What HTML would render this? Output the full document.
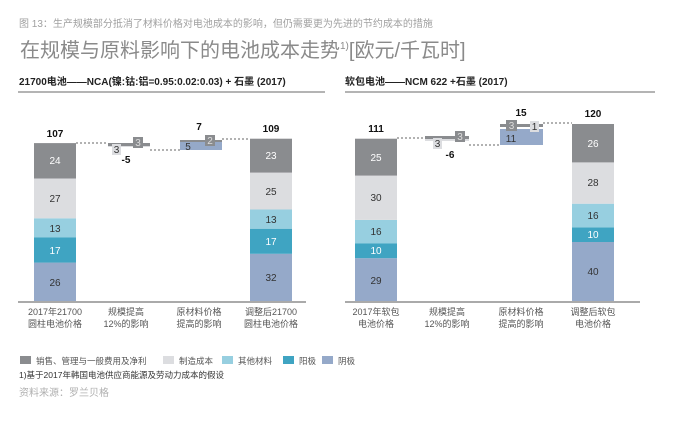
<!DOCTYPE html><html><head><meta charset="utf-8"><style>
body{margin:0;background:#fff;width:676px;height:433px;overflow:hidden;font-family:"Liberation Sans","Noto Sans CJK SC",sans-serif}
svg text{font-family:"Liberation Sans","Noto Sans CJK SC",sans-serif}
</style></head><body>
<svg width="676" height="433" viewBox="0 0 676 433" xmlns="http://www.w3.org/2000/svg">
<text x="19" y="27" font-size="10" fill="#a0a0a0" font-family="Noto Serif CJK SC, serif">图 13：生产规模部分抵消了材料价格对电池成本的影响，但仍需要更为先进的节约成本的措施</text>
<text x="20" y="57" font-size="20" fill="#8a8a8a">在规模与原料影响下的电池成本走势<tspan font-size="10" dy="-8">1)</tspan><tspan dy="8">[欧元/千瓦时]</tspan></text>
<text x="19" y="85" font-size="10" font-weight="bold" fill="#222">21700电池——NCA(镍:钴:铝=0.95:0.02:0.03) + 石墨 (2017)</text>
<text x="345" y="85" font-size="10" font-weight="bold" fill="#222">软包电池——NCM 622 +石墨 (2017)</text>
<line x1="18" y1="92" x2="325" y2="92" stroke="#888" stroke-width="1.2"/>
<line x1="345" y1="92" x2="655" y2="92" stroke="#888" stroke-width="1.2"/>
<line x1="18" y1="302" x2="306" y2="302" stroke="#777" stroke-width="1.2"/>
<line x1="345" y1="302" x2="640" y2="302" stroke="#777" stroke-width="1.2"/>
<g font-size="10" text-anchor="middle">
<rect x="34" y="262.6" width="42" height="38.4" fill="#95a9c9"/><text x="55" y="286" fill="#333">26</text>
<rect x="34" y="237.5" width="42" height="25.1" fill="#3fa4c2"/><text x="55" y="254" fill="#fff">17</text>
<rect x="34" y="218.3" width="42" height="19.2" fill="#97cfe0"/><text x="55" y="232" fill="#333">13</text>
<rect x="34" y="178.5" width="42" height="39.8" fill="#dcdde0"/><text x="55" y="202" fill="#333">27</text>
<rect x="34" y="143.1" width="42" height="35.4" fill="#8a8c8f"/><text x="55" y="164" fill="#fff">24</text>
<text x="55" y="137" font-weight="bold" fill="#111">107</text>
<rect x="250" y="253.8" width="42" height="47.2" fill="#95a9c9"/><text x="271" y="281" fill="#333">32</text>
<rect x="250" y="228.7" width="42" height="25.1" fill="#3fa4c2"/><text x="271" y="245" fill="#fff">17</text>
<rect x="250" y="209.5" width="42" height="19.2" fill="#97cfe0"/><text x="271" y="223" fill="#333">13</text>
<rect x="250" y="172.6" width="42" height="36.9" fill="#dcdde0"/><text x="271" y="195" fill="#333">25</text>
<rect x="250" y="138.7" width="42" height="33.9" fill="#8a8c8f"/><text x="271" y="159" fill="#fff">23</text>
<text x="271" y="132" font-weight="bold" fill="#111">109</text>
<line x1="76" y1="143" x2="108" y2="143" stroke="#666" stroke-dasharray="2,2"/>
<rect x="108" y="143" width="42" height="4" fill="#dcdde0"/>
<rect x="108" y="143" width="42" height="3" fill="#8a8c8f"/>
<rect x="112" y="144" width="9" height="11" fill="#dcdde0"/><text x="116.5" y="153" fill="#333">3</text>
<rect x="133" y="137" width="10" height="11" fill="#8a8c8f"/><text x="138" y="146" fill="#ddd">3</text>
<text x="126" y="163" font-weight="bold" fill="#111">-5</text>
<line x1="150" y1="150" x2="180" y2="150" stroke="#666" stroke-dasharray="2,2"/>
<rect x="180" y="142" width="42" height="8" fill="#95a9c9"/><text x="188" y="150" fill="#333">5</text>
<rect x="180" y="140" width="42" height="2" fill="#8a8c8f"/>
<rect x="205" y="135" width="10" height="11" fill="#8a8c8f"/><text x="210" y="144" fill="#ddd">2</text>
<text x="199" y="130" font-weight="bold" fill="#111">7</text>
<line x1="222" y1="139" x2="250" y2="139" stroke="#666" stroke-dasharray="2,2"/>
<rect x="355" y="258.2" width="42" height="42.8" fill="#95a9c9"/><text x="376" y="284" fill="#333">29</text>
<rect x="355" y="243.5" width="42" height="14.7" fill="#3fa4c2"/><text x="376" y="254" fill="#fff">10</text>
<rect x="355" y="219.9" width="42" height="23.6" fill="#97cfe0"/><text x="376" y="235" fill="#333">16</text>
<rect x="355" y="175.6" width="42" height="44.3" fill="#dcdde0"/><text x="376" y="201" fill="#333">30</text>
<rect x="355" y="138.7" width="42" height="36.9" fill="#8a8c8f"/><text x="376" y="161" fill="#fff">25</text>
<text x="376" y="132" font-weight="bold" fill="#111">111</text>
<rect x="572" y="242" width="42" height="59" fill="#95a9c9"/><text x="593" y="275" fill="#333">40</text>
<rect x="572" y="227.3" width="42" height="14.7" fill="#3fa4c2"/><text x="593" y="238" fill="#fff">10</text>
<rect x="572" y="203.7" width="42" height="23.6" fill="#97cfe0"/><text x="593" y="219" fill="#333">16</text>
<rect x="572" y="162.4" width="42" height="41.3" fill="#dcdde0"/><text x="593" y="186" fill="#333">28</text>
<rect x="572" y="124" width="42" height="38.4" fill="#8a8c8f"/><text x="593" y="147" fill="#fff">26</text>
<text x="593" y="117" font-weight="bold" fill="#111">120</text>
<line x1="397" y1="138" x2="425" y2="138" stroke="#666" stroke-dasharray="2,2"/>
<rect x="425" y="137" width="44" height="4" fill="#dcdde0"/>
<rect x="425" y="136" width="44" height="3" fill="#8a8c8f"/>
<rect x="433" y="138" width="9" height="11" fill="#dcdde0"/><text x="437.5" y="147" fill="#333">3</text>
<rect x="455" y="131" width="10" height="11" fill="#8a8c8f"/><text x="460" y="140" fill="#ddd">3</text>
<text x="450" y="158" font-weight="bold" fill="#111">-6</text>
<line x1="469" y1="145" x2="500" y2="145" stroke="#666" stroke-dasharray="2,2"/>
<rect x="500" y="129" width="43" height="16" fill="#95a9c9"/><text x="511" y="142" fill="#333">11</text>
<rect x="500" y="124" width="43" height="3" fill="#8a8c8f"/>
<rect x="506" y="120" width="11" height="11" fill="#8a8c8f"/><text x="511.5" y="129" fill="#ddd">3</text>
<rect x="530" y="121" width="9" height="11" fill="#dcdde0"/><text x="534.5" y="130" fill="#333">1</text>
<text x="521" y="116" font-weight="bold" fill="#111">15</text>
<line x1="543" y1="123" x2="572" y2="123" stroke="#666" stroke-dasharray="2,2"/>
</g>
<g font-size="9" text-anchor="middle" fill="#555">
<text x="55" y="315">2017年21700</text><text x="55" y="327">圆柱电池价格</text>
<text x="126" y="315">规模提高</text><text x="126" y="327">12%的影响</text>
<text x="199" y="315">原材料价格</text><text x="199" y="327">提高的影响</text>
<text x="271" y="315">调整后21700</text><text x="271" y="327">圆柱电池价格</text>
<text x="376" y="315">2017年软包</text><text x="376" y="327">电池价格</text>
<text x="447" y="315">规模提高</text><text x="447" y="327">12%的影响</text>
<text x="521" y="315">原材料价格</text><text x="521" y="327">提高的影响</text>
<text x="593" y="315">调整后软包</text><text x="593" y="327">电池价格</text>
</g>
<g font-size="8.5" fill="#555">
<rect x="20" y="356" width="11" height="8" fill="#8a8c8f"/><text x="36" y="364">销售、管理与一般费用及净利</text>
<rect x="163" y="356" width="11" height="8" fill="#dcdde0"/><text x="179" y="364">制造成本</text>
<rect x="222" y="356" width="11" height="8" fill="#97cfe0"/><text x="238" y="364">其他材料</text>
<rect x="283" y="356" width="11" height="8" fill="#3fa4c2"/><text x="299" y="364">阳极</text>
<rect x="322" y="356" width="11" height="8" fill="#95a9c9"/><text x="338" y="364">阴极</text>
</g>
<text x="19" y="378" font-size="8.5" fill="#333">1)基于2017年韩国电池供应商能源及劳动力成本的假设</text>
<text x="19" y="396" font-size="10" fill="#b0b0b0">资料来源：罗兰贝格</text>
</svg>
</body></html>
